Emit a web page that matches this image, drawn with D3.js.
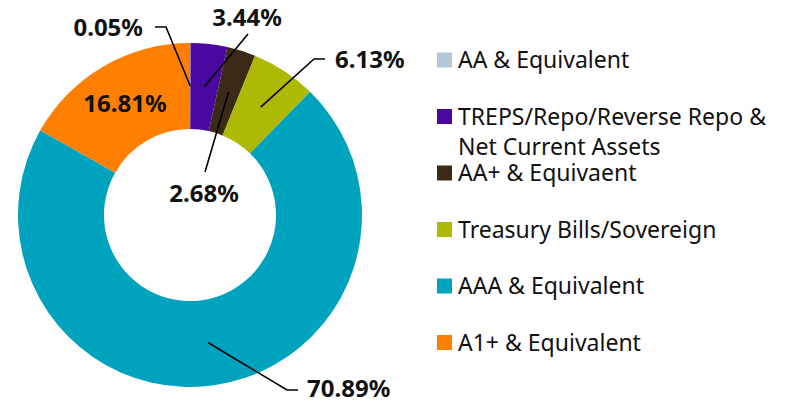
<!DOCTYPE html>
<html>
<head>
<meta charset="utf-8">
<script src="https://cdn.jsdelivr.net/npm/d3@7"></script>
<style>
  body { margin: 0; background: #fff; }
  svg { font-family: "Noto Sans", sans-serif; }
</style>
</head>
<body>
<div id="chart"></div>
<script>
// data
var categories = ["AA & Equivalent", "TREPS/Repo/Reverse Repo & Net Current Assets", "AA+ & Equivaent", "Treasury Bills/Sovereign", "AAA & Equivalent", "A1+ & Equivalent"];
var values = [0.05, 3.44, 2.68, 6.13, 70.89, 16.81];
var colors = ["#b4c7d9", "#4a08a0", "#3b2a17", "#adb902", "#00a3be", "#ff8000"];
// legend text split into lines
var legendLines = [["AA & Equivalent"], ["TREPS/Repo/Reverse Repo &", "Net Current Assets"], ["AA+ & Equivaent"], ["Treasury Bills/Sovereign"], ["AAA & Equivalent"], ["A1+ & Equivalent"]];

var width = 786, height = 403;
var cx = 190, cy = 215, outerR = 172, innerR = 86;

var svg = d3.select("#chart")
      .append("svg")
      .attr("width", width)
      .attr("height", height)

var pie = d3.pie().sort(null).value(d => d);
var arcs = pie(values);
var arc = d3.arc().innerRadius(innerR).outerRadius(outerR);

var g = svg.append("g").attr("transform", `translate(${cx},${cy})`);

g.selectAll("path.slice")
      .data(arcs)
      .enter()
      .append("path")
      .attr("class", "slice")
      .attr("fill", (d, i) => colors[i])
      .attr("d", arc)

// label placement: leader bend/end points and text anchor (page coords)
// empty pts = no leader, text at centroid
var labelLayout = [
      { pts: [[166, 27], [155, 27]], tx: 143, ty: 28, anchor: "end" },
      { pts: [[248, 34]], tx: 247, ty: 18, anchor: "middle" },
      { pts: [[205, 172]], tx: 204, ty: 194, anchor: "middle" },
      { pts: [[314, 59], [325, 59]], tx: 335, ty: 60, anchor: "start" },
      { pts: [[287, 390], [298, 390]], tx: 307, ty: 389, anchor: "start" },
      { pts: [], tx: null, ty: null, anchor: "middle" }
];

arcs.forEach(function (d, i) {
      var c = arc.centroid(d);
      var L = labelLayout[i];
      if (L.pts.length) {
            var pts = [[c[0], c[1]]].concat(L.pts.map(p => [p[0] - cx, p[1] - cy]));
            g.append("path")
                  .attr("d", d3.line()(pts))
                  .attr("fill", "none")
                  .attr("stroke", "#000")
                  .attr("stroke-width", 1.6)
      }
      var x = L.tx == null ? c[0] : L.tx - cx;
      var y = L.ty == null ? c[1] : L.ty - cy;
      g.append("text")
            .attr("x", x)
            .attr("y", y)
            .attr("dy", "0.35em")
            .attr("text-anchor", L.anchor)
            .attr("font-size", 24)
            .attr("font-weight", "bold")
            .attr("fill", "#111")
            .text(values[i].toFixed(2) + "%")
});

// legend
var legend = svg.append("g").attr("transform", "translate(437,60)");
var rowY = d3.scaleLinear().domain([0, 1]).range([0, 56.5]);

var rows = legend.selectAll("g.row")
      .data(categories)
      .enter()
      .append("g")
      .attr("class", "row")
      .attr("transform", (d, i) => `translate(0,${rowY(i)})`)

rows.append("rect")
      .attr("x", 0)
      .attr("y", -7.5)
      .attr("width", 15)
      .attr("height", 15)
      .attr("fill", (d, i) => colors[i])

rows.each(function (d, i) {
      var t = d3.select(this).append("text")
            .attr("x", 21)
            .attr("y", 0)
            .attr("font-size", 23)
            .attr("fill", "#111")
      legendLines[i].forEach(function (line, j) {
            t.append("tspan")
                  .attr("x", 21)
                  .attr("dy", j == 0 ? "0.35em" : 30)
                  .text(line)
      })
});
</script>
</body>
</html>
